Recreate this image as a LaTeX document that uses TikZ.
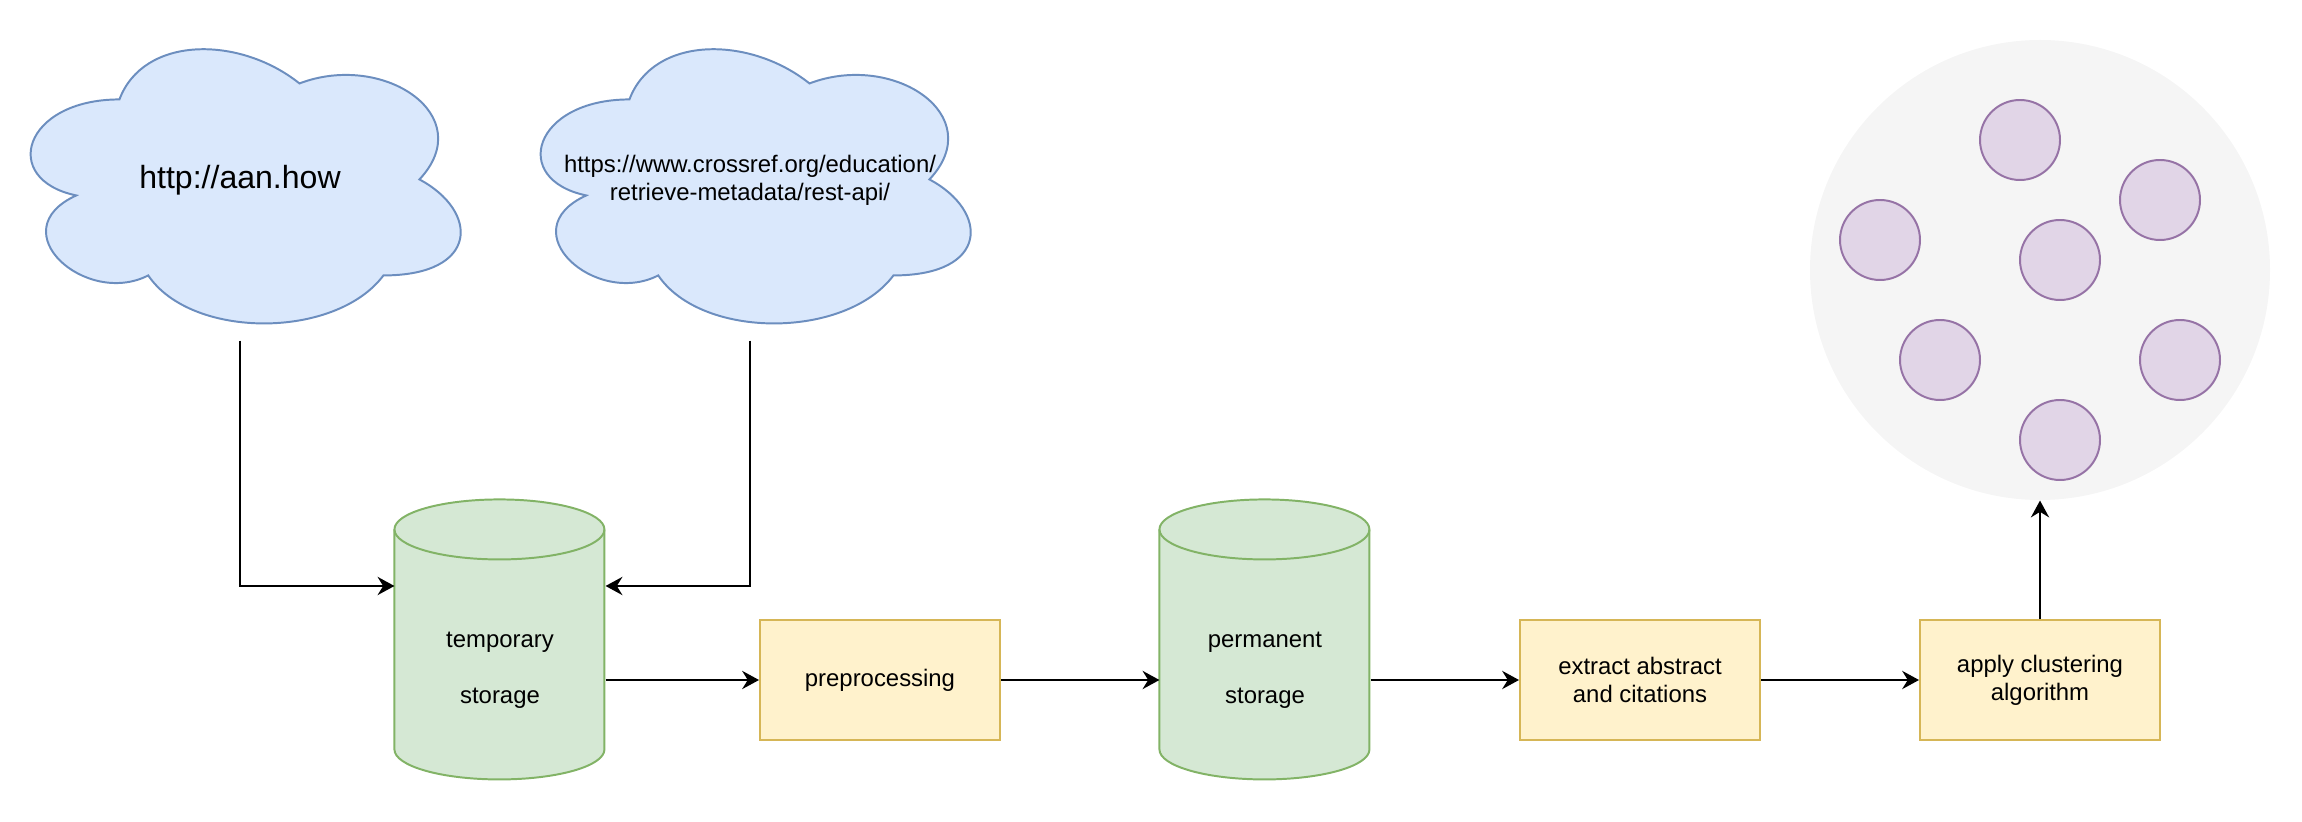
\documentclass[tikz,border=0pt]{standalone}
\usepackage[]{xcolor}
\usepackage{fontspec}
\setmainfont{Liberation Sans}
\usetikzlibrary{arrows.meta, backgrounds}

\definecolor{cloudfill}{HTML}{DAE8FC}
\definecolor{cloudline}{HTML}{6C8EBF}
\definecolor{dbfill}{HTML}{D5E8D4}
\definecolor{dbline}{HTML}{82B366}
\definecolor{stepfill}{HTML}{FFF2CC}
\definecolor{stepline}{HTML}{D6B656}
\definecolor{clusterfill}{HTML}{F5F5F5}
\definecolor{paperfill}{HTML}{E1D5E7}
\definecolor{paperline}{HTML}{9673A6}

\begin{document}
\begin{tikzpicture}[
		every node/.style = {font=\fontsize{8.5pt}{10pt}\selectfont, align=center},
		website/.style = {rectangle, inner sep=0pt, minimum width=6cm, minimum height=4cm},
		database/.style = {rectangle, inner sep=0pt, minimum width=2.625cm, minimum height=2.75cm},
		process/.style = {rectangle, draw=stepline, fill=stepfill, line width=0.7pt, minimum width=3cm, minimum height=1.5cm, inner sep=2pt},
		paper/.style = {circle, draw=paperline, fill=paperfill, line width=0.7pt, minimum size=1cm, inner sep=0pt},
		flow/.style = {-{Stealth[length=6pt, width=6.5pt, inset=2pt]}, line width=0.7pt}
	]
			\useasboundingbox (0,0) rectangle (28.775,10.275);

			\node[website, font=\fontsize{11.4pt}{13.7pt}\selectfont] (aan) at (3,8.025) {http://aan.how};
			\node[website] (crossref) at (9.375,8.025) {https://www.crossref.org/education/\\retrieve-metadata/rest-api/};
			\node[database] (tmp) at (6.25,1.9) {temporary\\[10pt]storage};
			\node[process] (pre) at (11,1.775) {preprocessing};
			\node[database] (perm) at (15.8125,1.9) {permanent\\[10pt]storage};
			\node[process] (ext) at (20.5,1.775) {extract abstract\\and citations};
			\node[process] (apply) at (25.5,1.775) {apply clustering\\algorithm};

			\node[circle, fill=clusterfill, minimum size=5.75cm, inner sep=0pt] (cluster) at (25.5,6.9) {};
			\foreach \x/\y [count=\i] in {25.25/8.525, 27/7.775, 23.5/7.275, 25.75/7.025, 24.25/5.775, 27.25/5.775, 25.75/4.775}
				\node[paper] (p\i) at (\x,\y) {};

			% shapes behind the labels
			\begin{scope}[on background layer]
				\foreach \c in {aan,crossref}
					\draw[draw=cloudline, fill=cloudfill, line width=0.7pt, shift={(\c.north west)}, x=6cm, y=-4cm]
						(0.25,0.25) .. controls (0.05,0.25) and (0,0.5) .. (0.16,0.55)
						.. controls (0,0.66) and (0.18,0.9) .. (0.31,0.8)
						.. controls (0.4,1) and (0.7,1) .. (0.8,0.8)
						.. controls (1,0.8) and (1,0.6) .. (0.875,0.5)
						.. controls (1,0.3) and (0.8,0.1) .. (0.625,0.2)
						.. controls (0.5,0.05) and (0.3,0.05) .. (0.25,0.25) -- cycle;
				\foreach \db in {tmp,perm}{
					\draw[draw=dbline, fill=dbfill, line width=0.7pt] (\db.north west) ++(0,0.375) -- ++(0,-2.75)
						arc[start angle=180, end angle=360, x radius=1.3125cm, y radius=0.375cm] -- ++(0,2.75)
						arc[start angle=0, end angle=180, x radius=1.3125cm, y radius=0.375cm] -- cycle;
					\draw[draw=dbline, line width=0.7pt] (\db.north west) ++(0,0.375)
						arc[start angle=180, end angle=360, x radius=1.3125cm, y radius=0.375cm];
				}
			\end{scope}

			\draw[flow] (aan.south) |- ([yshift=1.05cm]tmp.west);
			\draw[flow] (crossref.south) |- ([yshift=1.05cm]tmp.east);
			\draw[flow] (tmp.east |- pre) to (pre);
			\draw[flow] (pre) to (perm.west |- pre);
			\draw[flow] (perm.east |- ext) to (ext);
			\draw[flow] (ext) to (apply);
			\draw[flow] (apply) to (cluster);
		\end{tikzpicture}
\end{document}
